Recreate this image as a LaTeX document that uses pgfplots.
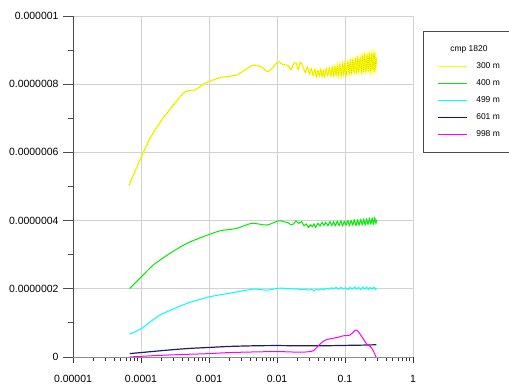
\documentclass[border=0pt]{standalone}
\usepackage{pgfplots}
\pgfplotsset{compat=1.18}
\usepackage{pgfplotstable}
\usepackage{fontspec}
\setmainfont{Liberation Sans}

\definecolor{cyel}{RGB}{255,255,0}
\definecolor{cyeld}{RGB}{200,200,0}
\definecolor{cgrn}{RGB}{0,235,0}
\definecolor{ccyn}{RGB}{0,255,255}
\definecolor{cnavy}{RGB}{30,30,100}
\definecolor{cblue}{RGB}{0,0,255}
\definecolor{cmag}{RGB}{255,0,255}
\definecolor{cgrid}{RGB}{210,210,210}

\pgfplotstableread{
x y
6.67e-5 5.04e-7
9.66e-5 5.78e-7
1.355e-4 6.41e-7
2.01e-4 6.95e-7
2.99e-4 7.39e-7
4.44e-4 7.78e-7
6.22e-4 7.83e-7
8.73e-4 8.03e-7
1.45e-3 8.19e-7
2.55e-3 8.27e-7
3.38e-3 8.42e-7
4.49e-3 8.56e-7
5.96e-3 8.50e-7
7.45e-3 8.37e-7
0.0104 8.66e-7
0.0115 8.60e-7
0.013 8.57e-7
0.0145 8.55e-7
0.016 8.43e-7
0.0175 8.60e-7
0.019 8.63e-7
0.0205 8.43e-7
0.022 8.64e-7
0.024 8.52e-7
0.026 8.35e-7
0.028 8.50e-7
0.030 8.30e-7
0.032 8.45e-7
0.034 8.26e-7
0.036 8.44e-7
0.038 8.22e-7
0.040 8.40e-7
0.042 8.25e-7
0.044 8.43e-7
0.046 8.23e-7
0.048 8.40e-7
0.050 8.22e-7
0.053 8.45e-7
0.056 8.26e-7
0.059 8.47e-7
0.062 8.25e-7
0.065 8.50e-7
0.068 8.26e-7
0.071 8.52e-7
0.074 8.25e-7
0.077 8.55e-7
0.080 8.26e-7
0.084 8.58e-7
0.088 8.25e-7
0.092 8.60e-7
0.096 8.27e-7
0.100 8.63e-7
0.105 8.28e-7
0.110 8.66e-7
0.115 8.30e-7
0.120 8.70e-7
0.125 8.32e-7
0.130 8.72e-7
0.136 8.33e-7
0.142 8.75e-7
0.148 8.34e-7
0.154 8.78e-7
0.160 8.36e-7
0.167 8.80e-7
0.174 8.35e-7
0.181 8.83e-7
0.188 8.38e-7
0.195 8.85e-7
0.203 8.36e-7
0.211 8.86e-7
0.219 8.40e-7
0.227 8.88e-7
0.235 8.38e-7
0.243 8.89e-7
0.251 8.43e-7
0.259 8.90e-7
0.267 8.40e-7
0.275 8.89e-7
0.283 8.46e-7
0.290 8.78e-7
}\tyellow

\pgfplotstableread{
x y
6.8e-5 2.01e-7
9.66e-5 2.31e-7
1.52e-4 2.70e-7
2.67e-4 3.04e-7
4.70e-4 3.33e-7
8.25e-4 3.53e-7
1.45e-3 3.70e-7
2.55e-3 3.77e-7
4.25e-3 3.92e-7
7.06e-3 3.87e-7
0.0104 3.99e-7
0.0117 3.99e-7
0.013 3.96e-7
0.0145 3.94e-7
0.016 3.88e-7
0.0175 3.90e-7
0.019 3.99e-7
0.021 3.92e-7
0.023 3.97e-7
0.025 3.85e-7
0.027 3.90e-7
0.029 3.80e-7
0.031 3.88e-7
0.033 3.82e-7
0.035 3.90e-7
0.037 3.80e-7
0.040 3.92e-7
0.043 3.84e-7
0.046 3.95e-7
0.049 3.86e-7
0.052 3.95e-7
0.056 3.85e-7
0.060 3.97e-7
0.064 3.86e-7
0.068 3.97e-7
0.072 3.85e-7
0.077 3.98e-7
0.082 3.86e-7
0.087 3.99e-7
0.092 3.85e-7
0.098 3.98e-7
0.104 3.87e-7
0.110 4.00e-7
0.116 3.86e-7
0.123 4.00e-7
0.130 3.87e-7
0.137 4.02e-7
0.145 3.86e-7
0.153 4.02e-7
0.161 3.87e-7
0.170 4.03e-7
0.179 3.88e-7
0.188 4.04e-7
0.198 3.88e-7
0.208 4.04e-7
0.218 3.89e-7
0.229 4.06e-7
0.240 3.90e-7
0.251 4.07e-7
0.262 3.90e-7
0.274 4.08e-7
0.285 3.92e-7
0.292 4.02e-7
}\tgreen

\pgfplotstableread{
x y
6.8e-5 0.67e-7
1.02e-4 0.84e-7
1.90e-4 1.23e-7
4.70e-4 1.57e-7
7.40e-4 1.69e-7
1.035e-3 1.77e-7
2.28e-3 1.89e-7
4.49e-3 1.99e-7
7.06e-3 1.96e-7
9.9e-3 2.01e-7
0.012 2.02e-7
0.014 2.00e-7
0.016 2.01e-7
0.018 1.99e-7
0.020 2.00e-7
0.023 1.97e-7
0.026 1.99e-7
0.029 1.96e-7
0.032 1.98e-7
0.035 1.95e-7
0.038 1.98e-7
0.041 1.96e-7
0.045 2.00e-7
0.049 1.97e-7
0.053 2.02e-7
0.058 1.99e-7
0.063 2.03e-7
0.068 2.00e-7
0.074 2.04e-7
0.080 1.99e-7
0.087 2.04e-7
0.094 2.00e-7
0.102 2.03e-7
0.110 1.98e-7
0.119 2.04e-7
0.128 1.99e-7
0.138 2.05e-7
0.148 2.00e-7
0.159 2.04e-7
0.170 1.98e-7
0.182 2.05e-7
0.195 1.99e-7
0.208 2.05e-7
0.222 1.98e-7
0.236 2.04e-7
0.251 1.99e-7
0.266 2.05e-7
0.280 1.98e-7
0.292 2.00e-7
}\tcyan

\pgfplotstableread{
x y
6.8e-5 0.10e-7
1.0e-4 0.13e-7
2.4e-4 0.20e-7
5.0e-4 0.25e-7
1.0e-3 0.28e-7
2.0e-3 0.31e-7
5.0e-3 0.33e-7
0.010 0.335e-7
0.020 0.33e-7
0.050 0.33e-7
0.100 0.34e-7
0.200 0.35e-7
0.290 0.36e-7
}\tnavy

\pgfplotstableread{
x y
6.8e-5 0.00e-7
1.0e-4 0.02e-7
2.0e-4 0.05e-7
5.0e-4 0.08e-7
7.4e-4 0.09e-7
1.0e-3 0.10e-7
2.0e-3 0.13e-7
5.0e-3 0.15e-7
0.0099 0.16e-7
0.015 0.15e-7
0.022 0.14e-7
0.028 0.15e-7
0.034 0.18e-7
0.038 0.27e-7
0.043 0.38e-7
0.048 0.46e-7
0.054 0.51e-7
0.067 0.55e-7
0.080 0.58e-7
0.093 0.62e-7
0.106 0.63e-7
0.118 0.64e-7
0.128 0.70e-7
0.140 0.78e-7
0.149 0.79e-7
0.160 0.72e-7
0.176 0.60e-7
0.190 0.50e-7
0.208 0.38e-7
0.228 0.33e-7
0.247 0.26e-7
0.265 0.15e-7
0.286 0.00e-7
}\tmag

\begin{document}
\begin{tikzpicture}
\path[use as bounding box] (-73bp,-28bp) rectangle (436bp,357bp);
\begin{axis}[
  at={(0,0)}, anchor=south west,
  scale only axis, width=340bp, height=341bp,
  xmode=log, xmin=1e-5, xmax=1, ymin=0, ymax=1e-6,
  scaled y ticks=false,
  axis x line*=bottom, axis y line*=left,
  axis line style={black!70, line width=0.9bp},
  x axis line style={black!45},
  xtick={1e-5,1e-4,1e-3,1e-2,1e-1,1},
  xticklabels={0.00001,0.0001,0.001,0.01,0.1,1},
  ytick={0,2e-7,4e-7,6e-7,8e-7,1e-6},
  yticklabels={0,0.0000002,0.0000004,0.0000006,0.0000008,0.000001},
  minor ytick={1e-7,3e-7,5e-7,7e-7,9e-7},
  tick align=outside,
  tick style={black!70, line width=0.8bp},
  x tick style={black!80},
  major tick length=6bp, minor tick length=4bp,
  y tick style={/pgfplots/major tick length=10bp, /pgfplots/minor tick length=5bp},
  grid=major,
  major grid style={cgrid, line width=0.9bp},
  tick label style={font=\fontsize{10.5}{12}\selectfont},
  yticklabel style={xshift=-5bp},
  xticklabel style={yshift=-8.5bp},
  /pgf/number format/assume math mode=true,
  legend style={at={(1.029,0.957)}, anchor=north west, draw=black!70, line width=0.9bp,
    fill=white, font=\fontsize{8.5}{10}\selectfont, inner xsep=14bp, inner ysep=14bp,
    row sep=9bp, column sep=9bp,
    nodes={inner sep=0pt, text height=6bp, text depth=2bp}},
  legend cell align=left,
  legend image code/.code={\draw[#1, line width=1bp] (0bp,0bp) -- (29bp,0bp);},
  every axis plot/.append style={smooth, tension=0.4},
]
\addlegendimage{empty legend}
\addlegendentry{\hspace*{-26bp}cmp 1820}
\addplot[cyel, line width=1.3bp] table[x=x,y=y] {\tyellow};
\addlegendentry{300 m}
\addplot[cyeld, line width=0.4bp, dash pattern=on 1bp off 1bp, forget plot] table[x=x,y=y] {\tyellow};
\addplot[cgrn, line width=1bp] table[x=x,y=y] {\tgreen};
\addlegendentry{400 m}
\addplot[ccyn, line width=1bp] table[x=x,y=y] {\tcyan};
\addlegendentry{499 m}
\addplot[cnavy, line width=1.2bp,
  legend image code/.code={\draw[cblue, line width=1bp] (0bp,0bp) -- (29bp,0bp);}] table[x=x,y=y] {\tnavy};
\addlegendentry{601 m}
\addplot[cmag, line width=1bp] table[x=x,y=y] {\tmag};
\addlegendentry{998 m}
\end{axis}
\end{tikzpicture}
\end{document}
